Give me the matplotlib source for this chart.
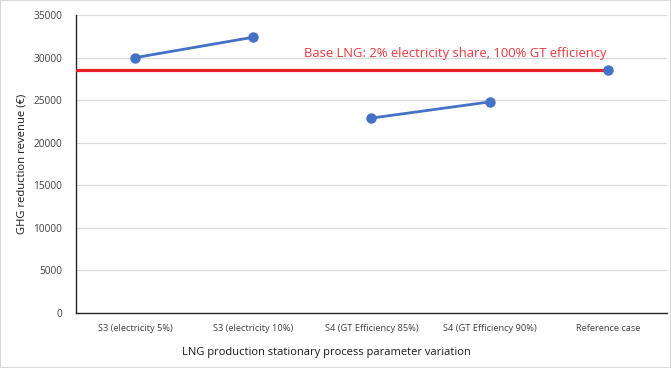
import matplotlib.pyplot as plt
import numpy as np

# Scenario labels along the x axis
categories = ['S3 (electricity 5%)', 'S3 (electricity 10%)',
              'S4 (GT Efficiency 85%)', 'S4 (GT Efficiency 90%)',
              'Reference case']
# GHG reduction revenue per scenario (EUR)
s3_values = [30000, 32400]
s4_values = [22900, 24800]
reference_value = 28550
base_label = 'Base LNG: 2% electricity share, 100% GT efficiency'
y_ticks = [0, 5000, 10000, 15000, 20000, 25000, 30000, 35000]

plt.rcParams['font.family'] = ['Open Sans', 'DejaVu Sans']

fig = plt.figure(figsize=(6.71, 3.68), dpi=100)
ax = fig.add_axes([0.1133, 0.1495, 0.8807, 0.8095])

x = np.arange(len(categories)) + 0.5
blue = '#4472C4'

# baseline from the reference case
ax.plot([0, x[4]], [reference_value, reference_value], color='#E8202A',
        linewidth=2.3, zorder=3)
ax.text(x[4] - 0.01, reference_value + 1200, base_label, color='#F0363F',
        fontsize=9.4, ha='right', va='bottom')

ax.plot(x[0:2], s3_values, color=blue, linewidth=2, marker='o',
        markersize=6.5, zorder=4)
ax.plot(x[2:4], s4_values, color=blue, linewidth=2, marker='o',
        markersize=6.5, zorder=4)
ax.plot([x[4]], [reference_value], color=blue, marker='o', markersize=6.5,
        linestyle='none', zorder=4)

ax.set_xlim(0, len(categories))
ax.set_ylim(0, 35000)
ax.set_yticks(y_ticks)
ax.set_yticklabels([str(v) for v in y_ticks])
ax.set_xticks(x)
ax.set_xticklabels(categories)
ax.tick_params(axis='both', length=0, labelsize=6.7, colors='#404040')
ax.tick_params(axis='y', pad=10, labelsize=7.3)
ax.tick_params(axis='x', pad=8)

ax.grid(axis='y', color='#D9D9D9', linewidth=0.9)
ax.set_axisbelow(True)
for side in ['top', 'right']:
    ax.spines[side].set_visible(False)
for side in ['left', 'bottom']:
    ax.spines[side].set_color('#262626')
    ax.spines[side].set_linewidth(1)

ax.set_ylabel('GHG reduction revenue (€)', fontsize=8.1, color='#1a1a1a',
              labelpad=4)
ax.set_xlabel('LNG production stationary process parameter variation',
              fontsize=8.0, color='#1a1a1a')
ax.xaxis.set_label_coords(0.423, -0.113)

# thin frame around the figure
fig.patches.append(plt.Rectangle((0, 0), 1, 1, transform=fig.transFigure,
                                 fill=False, edgecolor='#D9D9D9',
                                 linewidth=1.5))

fig.savefig('out.png', dpi=100)
